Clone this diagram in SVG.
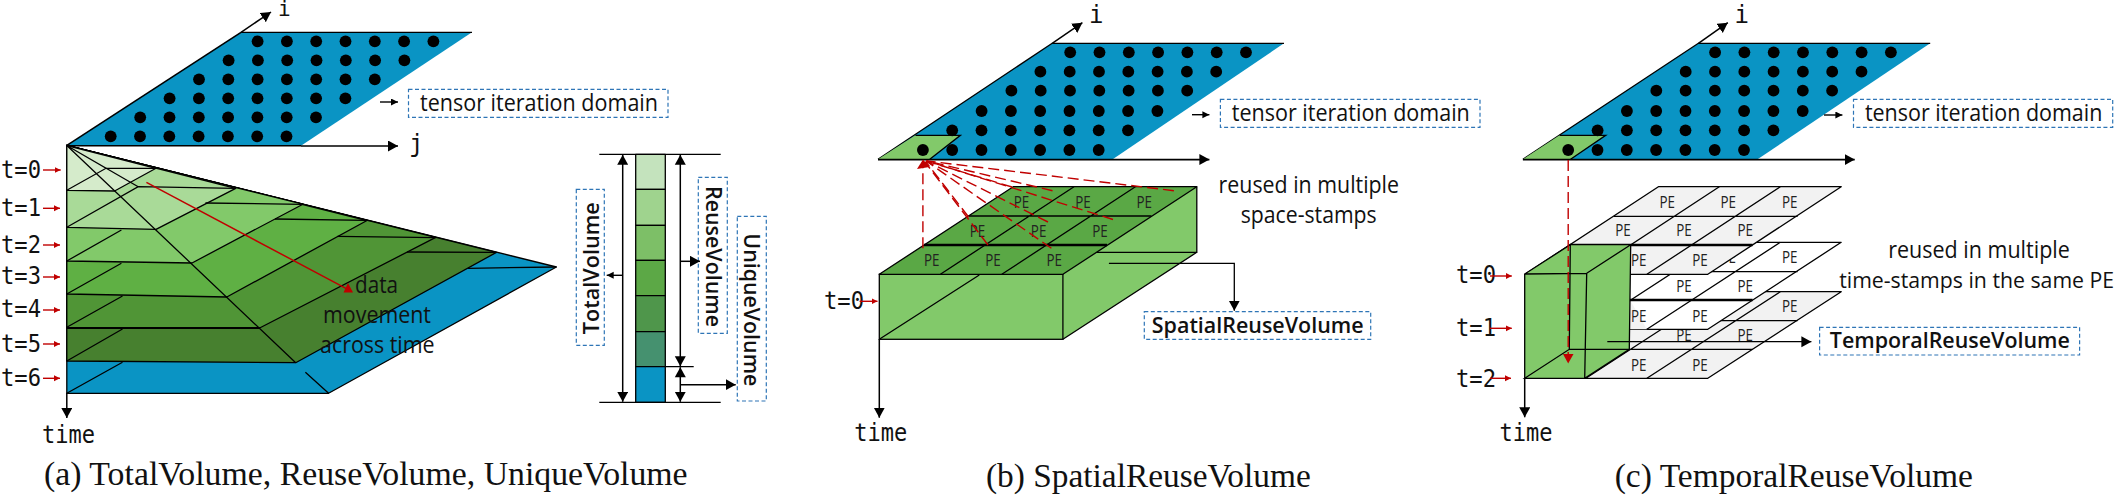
<svg xmlns="http://www.w3.org/2000/svg" width="2120" height="495" viewBox="0 0 2120 495">
<style>
  .bg{fill:#fff}
  .edge{stroke:#000;stroke-width:1.3;fill:none}
  .thick{stroke:#000;stroke-width:2.4;fill:none}
  .domain{fill:#0a94c4;stroke:none}
  .stroke{stroke:#000;stroke-width:1.3;stroke-linejoin:round}
  .grey{fill:#f2f2f2}
  .white{fill:#fff}
  .bright{fill:#82c96a}
  .cell{fill:#5aa845}
  .dash-box{fill:#fff;stroke:#2e75b6;stroke-width:1.2;stroke-dasharray:4 2.5}
  .axis{stroke:#000;stroke-width:1.5;fill:none;marker-end:url(#big)}
  .tick{stroke:#000;stroke-width:1.4;fill:none;marker-end:url(#small)}
  .both{stroke:#000;stroke-width:1.5;fill:none;marker-start:url(#bigs);marker-end:url(#big)}
  .stamp{stroke:#c00000;stroke-width:1.4;fill:none;marker-end:url(#redsmall)}
  .flow{stroke:#c00000;stroke-width:1.4;fill:none;stroke-dasharray:11 5}
  .mono{font-family:"DejaVu Sans Mono","Liberation Mono",monospace;font-size:24px;fill:#111}
  .axis-name{font-family:"DejaVu Sans Mono","Liberation Mono",monospace;font-size:21px;fill:#111}
  .sans{font-family:"Open Sans","Noto Sans",sans-serif;font-size:23px;fill:#111}
  .sans-long{font-family:"Open Sans","Noto Sans",sans-serif;font-size:21.5px;fill:#111}
  .strong{font-family:"Open Sans","Noto Sans",sans-serif;font-size:22px;font-weight:600;fill:#111}
  .pe{font-family:"Open Sans","Noto Sans",sans-serif;font-size:17px;fill:#222;text-anchor:middle}
  .cap{font-family:"Liberation Serif","Times New Roman",serif;font-size:34px;fill:#111}
  .dot{fill:#000}
</style>
<defs>
  <marker id="big" markerUnits="userSpaceOnUse" markerWidth="12" markerHeight="12" refX="10" refY="5.5" orient="auto"><path d="M0 0L10 5.5L0 11z" fill="#000"/></marker>
  <marker id="bigs" markerUnits="userSpaceOnUse" markerWidth="12" markerHeight="12" refX="0" refY="5.5" orient="auto"><path d="M10 0L0 5.5L10 11z" fill="#000"/></marker>
  <marker id="small" markerUnits="userSpaceOnUse" markerWidth="8" markerHeight="8" refX="7" refY="3.5" orient="auto"><path d="M0 0L7 3.5L0 7z" fill="#000"/></marker>
  <marker id="redsmall" markerUnits="userSpaceOnUse" markerWidth="8" markerHeight="8" refX="6" refY="3" orient="auto"><path d="M0 0L6 3L0 6z" fill="#c00000"/></marker>
  <g id="row">
    <circle class="dot" cx="0" cy="0" r="5.9"/><circle class="dot" cx="29.3" cy="0" r="5.9"/><circle class="dot" cx="58.6" cy="0" r="5.9"/><circle class="dot" cx="87.9" cy="0" r="5.9"/><circle class="dot" cx="117.2" cy="0" r="5.9"/><circle class="dot" cx="146.5" cy="0" r="5.9"/><circle class="dot" cx="175.8" cy="0" r="5.9"/>
  </g>
</defs>
<rect class="bg" width="2120" height="495"/>

<!-- Panel a: iteration domain -->
<g id="domain-a">
  <polygon class="domain" points="66.5,145.7 241,32.3 472,32.3 301,145.7"/>
  <path class="edge" d="M241 32.3H472"/>
  <path class="thick" d="M66.5 145.7L241 32.3" style="stroke-width:1.6"/>
  <use href="#row" x="257.6" y="41.3"/><use href="#row" x="228.6" y="60.3"/><use href="#row" x="199" y="79.3"/><use href="#row" x="169.6" y="98.3"/><use href="#row" x="140.2" y="117.3"/><use href="#row" x="110.7" y="136.3"/>
</g>

<!-- Panel a: stacked volume per time step, deepest layer first -->
<g id="volume-a">
  <polygon class="stroke" fill="#0a94c4" points="66.8,145.5 66.8,393.3 328.6,393.3 556.4,267"/>
  <polygon class="stroke" fill="#47802f" points="66.8,145.5 66.8,361 295.7,362.7 496.4,252.4"/>
  <polygon class="stroke" fill="#509536" points="66.8,145.5 66.8,327.3 259.6,328 435.7,237.4"/>
  <polygon class="stroke" fill="#5fb044" points="66.8,145.5 66.8,294 226.8,297 367,220.5"/>
  <polygon class="stroke" fill="#82c96a" points="66.8,145.5 66.8,261 192,263 302.9,204.2"/>
  <polygon class="stroke" fill="#a9da98" points="66.8,145.5 66.8,227.3 156,229.3 235.7,188.3"/>
  <polygon class="stroke" fill="#d5ebcb" points="66.8,145.5 66.8,190.3 114.6,191 156,168.3"/>
  <path class="edge" d="M66.8 145.5L106 168.3M66.8 145.5L138.2 186.7M66.8 145.5L295.7 362.7M305.4 372.3L328.6 393.3"/>
  <path class="edge" d="M66.8 190.3L106 168.3H156M66.8 227.3L138.2 186.7L235.7 188.3M66.8 261L121.4 230M66.8 294L121.4 263.3M66.8 327.3L122.5 296M66.8 361L122.5 329M66.8 393.3L122.5 362.3"/>
  <path class="edge" d="M205.4 203L302.9 204.3M275 219L367 220.3M337.5 236.3L435.7 237.7M407 252L496.4 252.3M467.9 268.3L556.4 267"/>
  <path class="edge" d="M66.8 328H259.6" style="stroke-width:2"/>
</g>

<!-- Panel a: volume breakdown bar -->
<g id="bar-a">
  <rect class="stroke" fill="#c4e3bd" x="635.7" y="154.3" width="29.6" height="35"/>
  <rect class="stroke" fill="#9fd38e" x="635.7" y="189.3" width="29.6" height="36"/>
  <rect class="stroke" fill="#7dbf67" x="635.7" y="225.3" width="29.6" height="35"/>
  <rect class="stroke" fill="#5ca846" x="635.7" y="260.3" width="29.6" height="35.4"/>
  <rect class="stroke" fill="#4f964b" x="635.7" y="295.7" width="29.6" height="36"/>
  <rect class="stroke" fill="#45916f" x="635.7" y="331.7" width="29.6" height="35"/>
  <rect class="stroke" fill="#0a94c4" x="635.7" y="366.7" width="29.6" height="35.6"/>
  <path class="edge" d="M599.3 154.3H720.7M599.3 402.3H720.7M665.3 366.7H693.7"/>
</g>

<g id="label-total">
  <rect class="dash-box" x="576.3" y="189.3" width="28" height="156"/>
  <text class="strong" transform="translate(598.5,334.2) rotate(-90)" textLength="132" lengthAdjust="spacingAndGlyphs">TotalVolume</text>
</g>
<g id="label-reuse">
  <rect class="dash-box" x="698.3" y="177.3" width="29" height="156"/>
  <text class="strong" transform="translate(705.5,186) rotate(90)" textLength="141" lengthAdjust="spacingAndGlyphs">ReuseVolume</text>
</g>
<g id="label-unique">
  <rect class="dash-box" x="737.3" y="216.3" width="29" height="184.7"/>
  <text class="strong" transform="translate(744,233.3) rotate(90)" textLength="153" lengthAdjust="spacingAndGlyphs">UniqueVolume</text>
</g>
<g id="label-domain-a">
  <rect class="dash-box" x="408.5" y="89.3" width="259.5" height="28"/>
  <text class="sans" x="420" y="110.7" textLength="238" lengthAdjust="spacingAndGlyphs">tensor iteration domain</text>
</g>
<g id="label-movement">
  <text class="sans" x="355" y="293" textLength="43" lengthAdjust="spacingAndGlyphs">data</text>
  <text class="sans" x="323" y="323" textLength="108" lengthAdjust="spacingAndGlyphs">movement</text>
  <text class="sans" x="320" y="352.7" textLength="114.6" lengthAdjust="spacingAndGlyphs">across time</text>
</g>
<g id="stamps-a">
  <text class="mono" x="1" y="178" textLength="40" lengthAdjust="spacingAndGlyphs">t=0</text><text class="mono" x="1" y="216" textLength="40" lengthAdjust="spacingAndGlyphs">t=1</text><text class="mono" x="1" y="252.7" textLength="40" lengthAdjust="spacingAndGlyphs">t=2</text><text class="mono" x="1" y="284" textLength="40" lengthAdjust="spacingAndGlyphs">t=3</text><text class="mono" x="1" y="317" textLength="40" lengthAdjust="spacingAndGlyphs">t=4</text><text class="mono" x="1" y="351.7" textLength="40" lengthAdjust="spacingAndGlyphs">t=5</text><text class="mono" x="1" y="385.7" textLength="40" lengthAdjust="spacingAndGlyphs">t=6</text>
  <text class="mono" x="42" y="443" textLength="53" lengthAdjust="spacingAndGlyphs">time</text>
  <text class="axis-name" x="278" y="16">i</text>
  <text class="mono" x="409" y="152">j</text>
</g>

<!-- Panel b: iteration domain -->
<g id="domain-b">
  <polygon class="domain" points="878,159.3 1052.2,43.3 1284,43.3 1112.7,159.3"/>
  <path class="edge" d="M1052.2 43.3H1284M878 159.3L1052.2 43.3"/>
  <polygon class="bright" points="878,159.3 915.5,135.3 960.4,135.3 929.8,159.3"/>
  <path class="edge" d="M915.5 135.3H960.4L929.8 159.3"/>
  <use href="#row" x="1070.2" y="52.3"/><use href="#row" x="1040.4" y="71.7"/><use href="#row" x="1011.4" y="90.7"/><use href="#row" x="981.6" y="111"/><use href="#row" x="952.2" y="130.3"/><use href="#row" x="922.9" y="150"/>
</g>

<!-- Panel b: PE array with its spatial reuse volume -->
<g id="volume-b">
  <polygon class="bright" points="1062.9,274.3 1196.8,186.7 1196.8,252.3 1062.9,339.3"/>
  <rect class="bright" x="879.3" y="274.3" width="183.6" height="65"/>
  <path class="edge" d="M1096.4 252.3H1196.8V186.7M1196.8 252.3L1062.9 339.3M879.3 339.3L979.3 275"/>
  <rect class="edge" x="879.3" y="274.3" width="183.6" height="65"/>
  <polygon class="cell stroke" points="879.3,274.3 1062.9,274.3 1196.8,186.7 1013.2,186.7"/>
  <path class="edge" d="M968.6 216H1151.4M940.4 274.3L1074 186.7M1001.8 274.3L1135.4 186.7"/>
  <path class="thick" d="M924 245H1107"/>
  <g>
    <text x="1021.4" y="207.5" class="pe" textLength="15.5" lengthAdjust="spacingAndGlyphs">PE</text><text x="1082.9" y="207.5" class="pe" textLength="15.5" lengthAdjust="spacingAndGlyphs">PE</text><text x="1144.3" y="207.5" class="pe" textLength="15.5" lengthAdjust="spacingAndGlyphs">PE</text>
    <text x="977.5" y="236.5" class="pe" textLength="15.5" lengthAdjust="spacingAndGlyphs">PE</text><text x="1038.6" y="236.5" class="pe" textLength="15.5" lengthAdjust="spacingAndGlyphs">PE</text><text x="1100" y="236.5" class="pe" textLength="15.5" lengthAdjust="spacingAndGlyphs">PE</text>
    <text x="931.8" y="266.3" class="pe" textLength="15.5" lengthAdjust="spacingAndGlyphs">PE</text><text x="992.9" y="266.3" class="pe" textLength="15.5" lengthAdjust="spacingAndGlyphs">PE</text><text x="1054.3" y="266.3" class="pe" textLength="15.5" lengthAdjust="spacingAndGlyphs">PE</text>
  </g>
</g>
<g id="label-domain-b">
  <rect class="dash-box" x="1220.4" y="99.3" width="259.6" height="28"/>
  <text class="sans" x="1231.8" y="120.7" textLength="238" lengthAdjust="spacingAndGlyphs">tensor iteration domain</text>
</g>
<g id="label-spatial">
  <rect class="dash-box" x="1144.3" y="311.7" width="226.4" height="27.6"/>
  <text class="strong" x="1151.8" y="333.3" textLength="211.8" lengthAdjust="spacingAndGlyphs">SpatialReuseVolume</text>
</g>
<g id="note-b">
  <text class="sans" x="1218.6" y="193.3" textLength="180.4" lengthAdjust="spacingAndGlyphs">reused in multiple</text>
  <text class="sans" x="1240.7" y="223.3" textLength="136" lengthAdjust="spacingAndGlyphs">space-stamps</text>
</g>
<g id="stamps-b">
  <text class="mono" x="824" y="309.3" textLength="40" lengthAdjust="spacingAndGlyphs">t=0</text>
  <text class="mono" x="854.3" y="441" textLength="53" lengthAdjust="spacingAndGlyphs">time</text>
  <text class="mono" x="1089" y="23">i</text>
</g>

<!-- Panel c: iteration domain -->
<g id="domain-c">
  <polygon class="domain" points="1522.9,159.3 1698.4,43.3 1930.2,43.3 1757.6,159.3"/>
  <path class="edge" d="M1698.4 43.3H1930.2M1522.9 159.3L1698.4 43.3"/>
  <polygon class="bright" points="1522.9,159.3 1559.6,135.3 1605.7,135.3 1570.6,159.3"/>
  <path class="edge" d="M1559.6 135.3H1605.7L1570.6 159.3"/>
  <use href="#row" x="1715.1" y="52.3"/><use href="#row" x="1685.7" y="71.7"/><use href="#row" x="1656.3" y="90.7"/><use href="#row" x="1626.9" y="111"/><use href="#row" x="1597.6" y="130.3"/><use href="#row" x="1568.2" y="150"/>
</g>

<!-- Panel c: PE array repeated at t=2, t=1 and t=0, deepest first -->
<g id="plane-t2">
  <polygon class="grey stroke" points="1524.9,378.3 1707.8,378.3 1841.2,291.7 1658.4,291.7"/>
  <path class="edge" d="M1613.9 320.7H1797.6M1569.8 349.3H1752.6M1585.9 378.3L1719.3 291.7M1646.9 378.3L1780.3 291.7"/>
  <text x="1789.8" y="312.3" class="pe" textLength="15.5" lengthAdjust="spacingAndGlyphs">PE</text><text x="1684" y="341" class="pe" textLength="15.5" lengthAdjust="spacingAndGlyphs">PE</text><text x="1745.3" y="341" class="pe" textLength="15.5" lengthAdjust="spacingAndGlyphs">PE</text><text x="1638.8" y="371" class="pe" textLength="15.5" lengthAdjust="spacingAndGlyphs">PE</text><text x="1700" y="371" class="pe" textLength="15.5" lengthAdjust="spacingAndGlyphs">PE</text>
</g>
<g id="plane-t1">
  <polygon class="white stroke" points="1524.9,329.3 1707.8,329.3 1841.2,242.3 1658.4,242.3"/>
  <polygon class="grey" points="1569.8,300 1630,300 1646.9,329.3 1585.9,329.3"/>
  <path class="edge" d="M1613.9 271.7H1797.6M1585.9 329.3L1719.3 242.3M1646.9 329.3L1780.3 242.3"/>
  <path class="thick" d="M1569.8 300H1752.6"/>
  <text x="1789.8" y="262.7" class="pe" textLength="15.5" lengthAdjust="spacingAndGlyphs">PE</text><text x="1728.2" y="262.7" class="pe" textLength="15.5" lengthAdjust="spacingAndGlyphs">PE</text><text x="1684" y="291.7" class="pe" textLength="15.5" lengthAdjust="spacingAndGlyphs">PE</text><text x="1745.3" y="291.7" class="pe" textLength="15.5" lengthAdjust="spacingAndGlyphs">PE</text><text x="1638.8" y="321.7" class="pe" textLength="15.5" lengthAdjust="spacingAndGlyphs">PE</text><text x="1700" y="321.7" class="pe" textLength="15.5" lengthAdjust="spacingAndGlyphs">PE</text>
</g>
<g id="plane-t0">
  <polygon class="grey stroke" points="1524.9,274.3 1707.8,274.3 1841.2,186.7 1658.4,186.7"/>
  <path class="edge" d="M1613.9 216.3H1797.6M1585.9 274.3L1719.3 186.7M1646.9 274.3L1780.3 186.7"/>
  <path class="thick" d="M1569.8 245H1752.6"/>
  <text x="1667.3" y="207.5" class="pe" textLength="15.5" lengthAdjust="spacingAndGlyphs">PE</text><text x="1728.2" y="207.5" class="pe" textLength="15.5" lengthAdjust="spacingAndGlyphs">PE</text><text x="1789.8" y="207.5" class="pe" textLength="15.5" lengthAdjust="spacingAndGlyphs">PE</text><text x="1622.9" y="236" class="pe" textLength="15.5" lengthAdjust="spacingAndGlyphs">PE</text><text x="1684" y="236" class="pe" textLength="15.5" lengthAdjust="spacingAndGlyphs">PE</text><text x="1745.3" y="236" class="pe" textLength="15.5" lengthAdjust="spacingAndGlyphs">PE</text><text x="1638.8" y="266.3" class="pe" textLength="15.5" lengthAdjust="spacingAndGlyphs">PE</text><text x="1700" y="266.3" class="pe" textLength="15.5" lengthAdjust="spacingAndGlyphs">PE</text>
</g>
<!-- Panel c: temporal reuse volume through one PE -->
<g id="volume-c">
  <polygon class="bright" points="1524.7,274 1570.3,244.7 1630.7,244.7 1629.3,349.3 1584.7,378.3 1524.7,378.3"/>
  <path class="edge" d="M1524.7 378.3V274L1570.3 244.7H1630.7L1629.3 349.3L1584.7 378.3H1524.7L1569.3 349.3H1629.3M1570.3 244.7L1569.3 349.3M1524.7 274L1586.7 273.3L1584.7 378.3M1586.7 273.3L1630.7 244.7"/>
</g>
<g id="label-domain-c">
  <rect class="dash-box" x="1853.5" y="99.3" width="259.2" height="28"/>
  <text class="sans" x="1864.9" y="120.7" textLength="237.5" lengthAdjust="spacingAndGlyphs">tensor iteration domain</text>
</g>
<g id="label-temporal">
  <rect class="dash-box" x="1819.6" y="327.3" width="260" height="27.7"/>
  <text class="strong" x="1829.8" y="348.3" textLength="240" lengthAdjust="spacingAndGlyphs">TemporalReuseVolume</text>
</g>
<g id="note-c">
  <text class="sans" x="1888.2" y="258.3" textLength="181.6" lengthAdjust="spacingAndGlyphs">reused in multiple</text>
  <text class="sans-long" x="1839.2" y="288.3" textLength="275" lengthAdjust="spacingAndGlyphs">time-stamps in the same PE</text>
</g>
<g id="stamps-c">
  <text class="mono" x="1456" y="283.3" textLength="40" lengthAdjust="spacingAndGlyphs">t=0</text><text class="mono" x="1456" y="336" textLength="40" lengthAdjust="spacingAndGlyphs">t=1</text><text class="mono" x="1456" y="386.7" textLength="40" lengthAdjust="spacingAndGlyphs">t=2</text>
  <text class="mono" x="1499.6" y="440.7" textLength="53" lengthAdjust="spacingAndGlyphs">time</text>
  <text class="mono" x="1734.5" y="23">i</text>
</g>

<!-- Sub-figure captions -->
<g id="captions">
  <text class="cap" x="44" y="485" textLength="643.6" lengthAdjust="spacingAndGlyphs">(a) TotalVolume, ReuseVolume, UniqueVolume</text>
  <text class="cap" x="986" y="486.7" textLength="324.7" lengthAdjust="spacingAndGlyphs">(b) SpatialReuseVolume</text>
  <text class="cap" x="1614.7" y="486.7" textLength="358.3" lengthAdjust="spacingAndGlyphs">(c) TemporalReuseVolume</text>
</g>

<g id="connectors">
  <!-- axes -->
  <path class="axis" d="M241 32.3L271 12"/>
  <path class="axis" d="M301 146H398"/>
  <path class="thick" d="M66.5 145.7H301" style="stroke-width:1.5"/>
  <path class="axis" d="M66.8 393V418"/>
  <path class="axis" d="M1052.2 43.3L1082.4 22.7"/>
  <path class="axis" d="M878 159.6H1209.4" style="stroke-width:1.8"/>
  <path class="axis" d="M879.3 339V417.7"/>
  <path class="axis" d="M1698.4 43.3L1727.8 22.7"/>
  <path class="axis" d="M1522.9 159.6H1854.7" style="stroke-width:1.8"/>
  <path class="axis" d="M1524.7 378V417.3"/>
  <!-- pointers to the domain labels -->
  <path class="tick" d="M380 102H398"/>
  <path class="tick" d="M1192 114.7H1209.4"/>
  <path class="tick" d="M1824 115H1842.4"/>
  <!-- bar dimension lines -->
  <path class="both" d="M622.7 154.8V401.8"/>
  <path class="both" d="M680.3 154.8V366.2"/>
  <path class="both" d="M680.3 367.2V401.8"/>
  <path class="tick" d="M622.7 275.3H606.7"/>
  <path class="axis" d="M680.3 261.3H700"/>
  <path class="axis" d="M680.3 384.7H735.7"/>
  <!-- reuse volume leaders -->
  <path class="axis" d="M1108.9 263.3H1234.3V310.7" style="stroke-width:1.3"/>
  <path class="axis" d="M1607.3 341.7H1811.4" style="stroke-width:1.3"/>
  <!-- time stamp ticks -->
  <path class="stamp" d="M43 170H60.7"/><path class="stamp" d="M43 208.3H60"/><path class="stamp" d="M43 245H60"/><path class="stamp" d="M43 277H60"/><path class="stamp" d="M43 310H60"/><path class="stamp" d="M43 344H60"/><path class="stamp" d="M43 378.3H60"/>
  <path class="stamp" d="M859.6 301.3H877.5"/>
  <path class="stamp" d="M1490 276H1511.8"/><path class="stamp" d="M1490 328.3H1511.8"/><path class="stamp" d="M1490 378.3H1511"/>
  <!-- data movement -->
  <path d="M146.4 182.3L352 291.7" stroke="#c00000" stroke-width="1.5" fill="none"/>
  <path d="M343.5 292.5L353 292.5L348 283z" fill="#c00000"/>
  <!-- spatial reuse fan -->
  <path class="flow" d="M922.9 248.3V166"/>
  <path class="flow" d="M988 245L925 162"/>
  <path class="flow" d="M1051.4 248.3L926 161"/>
  <path class="flow" d="M968.6 217L926 162"/>
  <path class="flow" d="M1048 222L926 161"/>
  <path class="flow" d="M1113 219.5L927 161"/>
  <path class="flow" d="M1012 187L926 161"/>
  <path class="flow" d="M1052.5 190.7L927 161"/>
  <path class="flow" d="M1173.9 190.7L927 161"/>
  <path d="M917 169L923 159.5L929.5 167z" fill="#c00000"/>
  <!-- temporal reuse drop -->
  <path class="flow" d="M1568.2 160V354"/>
  <path d="M1563 354H1573.5L1568.2 363.5z" fill="#c00000"/>
</g>
</svg>
